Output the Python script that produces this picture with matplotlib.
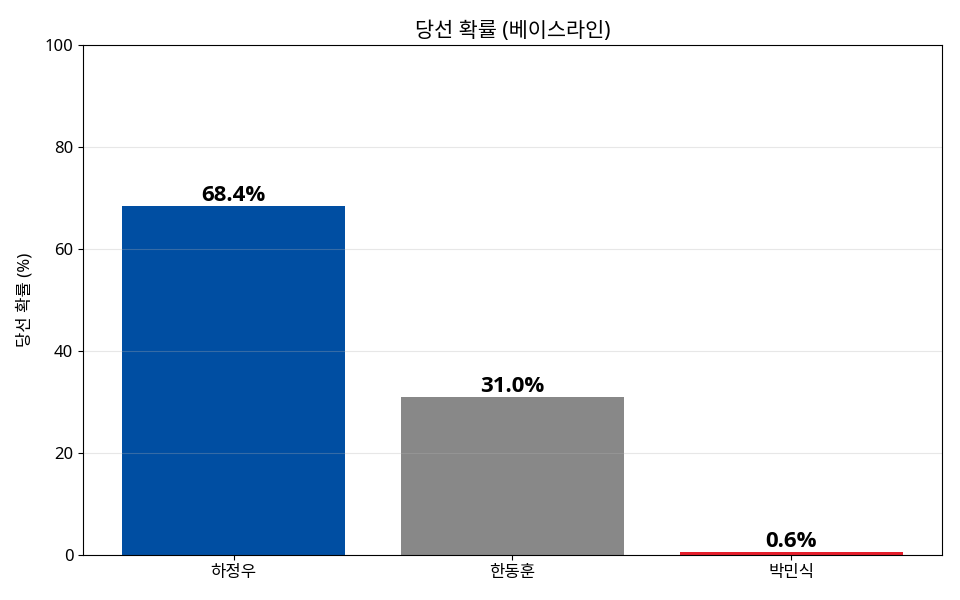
import matplotlib
matplotlib.use("Agg")
import matplotlib.pyplot as plt

plt.rcParams["font.family"] = ["Noto Sans", "Noto Sans CJK KR", "DejaVu Sans"]
plt.rcParams["axes.unicode_minus"] = False
plt.rcParams["font.size"] = 12

candidates = ["하정우", "한동훈", "박민식"]
win_prob = [68.4, 31.0, 0.6]
colors = ["#004EA2", "#888888", "#E61E2B"]

fig, ax = plt.subplots(figsize=(9.6, 6), dpi=100)
bars = ax.bar(candidates, win_prob, color=colors, width=0.8)
for b, v in zip(bars, win_prob):
    ax.text(b.get_x() + b.get_width() / 2, b.get_height(), f"{v:.1f}%",
            ha="center", va="bottom", fontsize=16, fontweight="bold",
            family=["Open Sans", "DejaVu Sans"])

ax.set_ylim(0, 100)
ax.set_ylabel("당선 확률 (%)", labelpad=8)
ax.set_title("당선 확률 (베이스라인)", fontsize=15)
ax.grid(axis="y", alpha=0.3)

fig.subplots_adjust(left=0.0865, right=0.981, top=0.925, bottom=0.075)
fig.savefig("out.png", dpi=100)
